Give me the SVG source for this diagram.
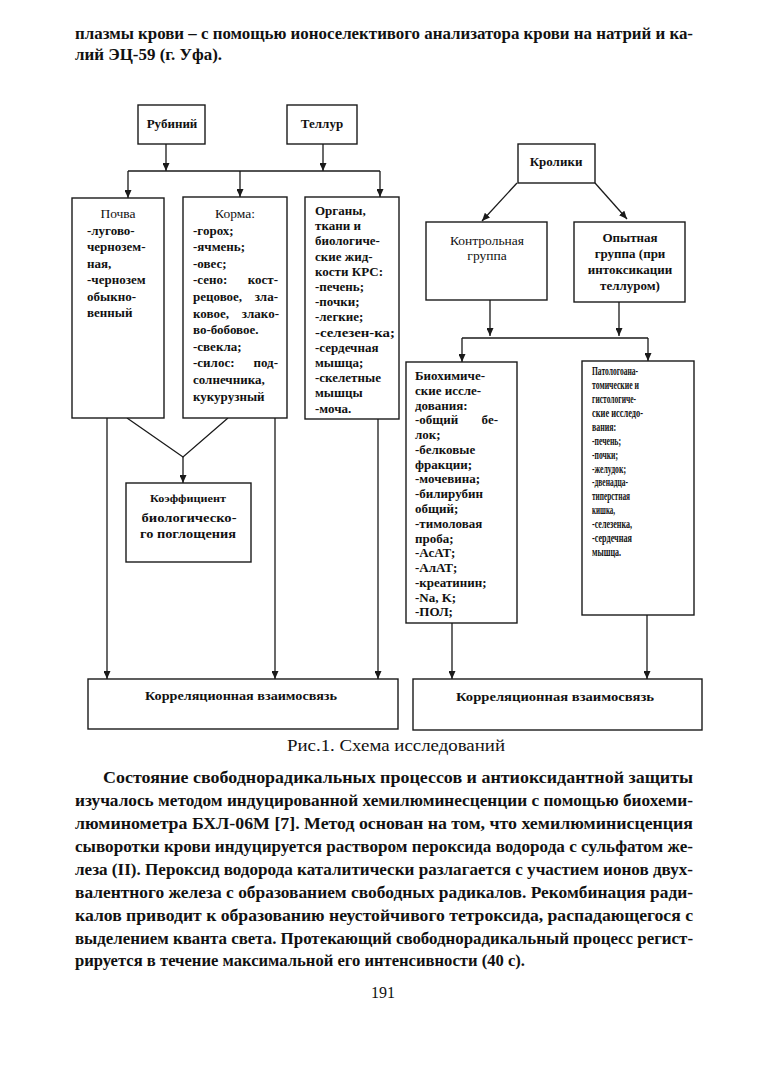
<svg xmlns="http://www.w3.org/2000/svg" width="773" height="1078" viewBox="0 0 773 1078">
<style>
  .bg{fill:#ffffff}
  .box{fill:#ffffff;stroke:#1a1a1a;stroke-width:1.4}
  .ln{fill:none;stroke:#1a1a1a;stroke-width:1.3}
  text{font-family:"Liberation Serif","DejaVu Serif",serif;fill:#111}
  .t{font-size:13px;font-weight:bold}
  .tr{font-size:13.5px}
  .sm{font-size:10.5px;font-weight:bold}
  .sp{font-size:11.5px;font-weight:bold}
  .body{font-size:16.5px;font-weight:bold}
  .cap{font-size:16px}
  .c{text-anchor:middle}
  .e{text-anchor:end}
</style>
<defs>
  <marker id="ah" viewBox="0 0 8 7" refX="8" refY="3.5" markerWidth="8" markerHeight="7" markerUnits="userSpaceOnUse" orient="auto">
    <path d="M0,0 L8,3.5 L0,7 z" fill="#1a1a1a"/>
  </marker>
</defs>
<rect class="bg" x="0" y="0" width="773" height="1078"/>

<g id="page-text-top">
  <text class="body" x="75" y="39" textLength="618" lengthAdjust="spacingAndGlyphs">плазмы крови – с помощью ионоселективого анализатора крови на натрий и ка-</text>
  <text class="body" x="75" y="60" textLength="147" lengthAdjust="spacingAndGlyphs">лий ЭЦ-59 (г. Уфа).</text>
</g>

<g id="connectors">
  <line class="ln" x1="166" y1="144" x2="166" y2="171" marker-end="url(#ah)"/>
  <line class="ln" x1="323" y1="144" x2="323" y2="171" marker-end="url(#ah)"/>
  <line class="ln" x1="128" y1="171" x2="380" y2="171"/>
  <line class="ln" x1="128" y1="171" x2="128" y2="198" marker-end="url(#ah)"/>
  <line class="ln" x1="240" y1="171" x2="240" y2="197" marker-end="url(#ah)"/>
  <line class="ln" x1="380" y1="171" x2="380" y2="197" marker-end="url(#ah)"/>
  <line class="ln" x1="517" y1="183" x2="482" y2="221" marker-end="url(#ah)"/>
  <line class="ln" x1="595" y1="183" x2="627" y2="219" marker-end="url(#ah)"/>
  <line class="ln" x1="490" y1="300" x2="490" y2="336" marker-end="url(#ah)"/>
  <line class="ln" x1="619" y1="302" x2="619" y2="336" marker-end="url(#ah)"/>
  <line class="ln" x1="462" y1="338" x2="648" y2="338"/>
  <line class="ln" x1="462" y1="338" x2="462" y2="362" marker-end="url(#ah)"/>
  <line class="ln" x1="648" y1="338" x2="648" y2="361" marker-end="url(#ah)"/>
  <polyline class="ln" points="127,418 183,457 228,418"/>
  <line class="ln" x1="183" y1="457" x2="183" y2="483" marker-end="url(#ah)"/>
  <line class="ln" x1="107" y1="418" x2="107" y2="679" marker-end="url(#ah)"/>
  <line class="ln" x1="275" y1="418" x2="275" y2="679" marker-end="url(#ah)"/>
  <line class="ln" x1="378" y1="419" x2="378" y2="679" marker-end="url(#ah)"/>
  <line class="ln" x1="452" y1="623" x2="452" y2="679" marker-end="url(#ah)"/>
  <line class="ln" x1="647" y1="615" x2="647" y2="679" marker-end="url(#ah)"/>
</g>

<g id="rubidium">
  <rect class="box" x="138" y="105" width="67" height="39"/>
  <text class="t c" x="172" y="128">Рубиний</text>
</g>
<g id="tellurium">
  <rect class="box" x="287" y="105" width="70" height="39"/>
  <text class="t c" x="322" y="128">Теллур</text>
</g>

<g id="soil">
  <rect class="box" x="72" y="198" width="92" height="220"/>
  <text class="tr c" x="118" y="218">Почва</text>
  <text class="t" x="87" y="234.5">-лугово-</text>
  <text class="t" x="87" y="251">чернозем-</text>
  <text class="t" x="87" y="267.5">ная,</text>
  <text class="t" x="87" y="284">-чернозем</text>
  <text class="t" x="87" y="300.5">обыкно-</text>
  <text class="t" x="87" y="317">венный</text>
</g>

<g id="feed">
  <rect class="box" x="183" y="197" width="104" height="221"/>
  <text class="tr c" x="235" y="218">Корма:</text>
  <text class="t" x="193" y="234.6">-горох;</text>
  <text class="t" x="193" y="251.2">-ячмень;</text>
  <text class="t" x="193" y="267.8">-овес;</text>
  <text class="t" x="193" y="284.4">-сено:</text>
  <text class="t e" x="278" y="284.4">кост-</text>
  <text class="t" x="193" y="301">рецовое,</text>
  <text class="t e" x="278" y="301">зла-</text>
  <text class="t" x="193" y="317.6">ковое,</text>
  <text class="t e" x="279" y="317.6">злако-</text>
  <text class="t" x="193" y="334.2">во-бобовое.</text>
  <text class="t" x="193" y="350.8">-свекла;</text>
  <text class="t" x="193" y="367.4">-силос:</text>
  <text class="t e" x="278" y="367.4">под-</text>
  <text class="t" x="193" y="384">солнечника,</text>
  <text class="t" x="193" y="400.6">кукурузный</text>
</g>

<g id="organs">
  <rect class="box" x="305" y="197" width="94" height="222"/>
  <text class="t" x="315" y="215">Органы,</text>
  <text class="t" x="315" y="230.2">ткани и</text>
  <text class="t" x="315" y="245.4">биологиче-</text>
  <text class="t" x="315" y="260.6">ские жид-</text>
  <text class="t" x="315" y="275.8">кости КРС:</text>
  <text class="t" x="315" y="291">-печень;</text>
  <text class="t" x="315" y="306.2">-почки;</text>
  <text class="t" x="315" y="321.4">-легкие;</text>
  <text class="t" x="315" y="336.6" textLength="80" lengthAdjust="spacingAndGlyphs">-селезен-ка;</text>
  <text class="t" x="315" y="351.8">-сердечная</text>
  <text class="t" x="315" y="367">мышца;</text>
  <text class="t" x="315" y="382.2">-скелетные</text>
  <text class="t" x="315" y="397.4">мышцы</text>
  <text class="t" x="315" y="412.6">-моча.</text>
</g>

<g id="coefficient">
  <rect class="box" x="126" y="483" width="125" height="79"/>
  <text class="sm c" x="188" y="502" textLength="76" lengthAdjust="spacingAndGlyphs">Коэффициент</text>
  <text class="t c" x="189" y="522" textLength="95" lengthAdjust="spacingAndGlyphs">биологическо-</text>
  <text class="t c" x="188" y="538" textLength="96" lengthAdjust="spacingAndGlyphs">го поглощения</text>
</g>

<g id="rabbits">
  <rect class="box" x="518" y="144" width="77" height="39"/>
  <text class="t c" x="556" y="166">Кролики</text>
</g>

<g id="control-group">
  <rect class="box" x="426" y="222" width="121" height="78"/>
  <text class="tr c" x="487" y="245">Контрольная</text>
  <text class="tr c" x="487" y="260">группа</text>
</g>

<g id="experimental-group">
  <rect class="box" x="574" y="222" width="111" height="80"/>
  <text class="t c" x="630" y="242">Опытная</text>
  <text class="t c" x="630" y="258">группа (при</text>
  <text class="t c" x="630" y="274">интоксикации</text>
  <text class="t c" x="630" y="290">теллуром)</text>
</g>

<g id="biochem">
  <rect class="box" x="406" y="362" width="111" height="261"/>
  <text class="t" x="415" y="380">Биохимиче-</text>
  <text class="t" x="415" y="394.8">ские иссле-</text>
  <text class="t" x="415" y="409.5">дования:</text>
  <text class="t" x="415" y="424.3">-общий</text>
  <text class="t e" x="498" y="424.3">бе-</text>
  <text class="t" x="415" y="439.1">лок;</text>
  <text class="t" x="415" y="453.9">-белковые</text>
  <text class="t" x="415" y="468.6">фракции;</text>
  <text class="t" x="415" y="483.4">-мочевина;</text>
  <text class="t" x="415" y="498.2">-билирубин</text>
  <text class="t" x="415" y="513">общий;</text>
  <text class="t" x="415" y="527.7">-тимоловая</text>
  <text class="t" x="415" y="542.5">проба;</text>
  <text class="t" x="415" y="557.3">-АсАТ;</text>
  <text class="t" x="415" y="572">-АлАТ;</text>
  <text class="t" x="415" y="586.8">-креатинин;</text>
  <text class="t" x="415" y="601.6">-Na, K;</text>
  <text class="t" x="415" y="616.4">-ПОЛ;</text>
</g>

<g id="pathology">
  <rect class="box" x="582" y="361" width="112" height="254"/>
  <text class="sp" x="592" y="375" textLength="46" lengthAdjust="spacingAndGlyphs">Патологоана-</text>
  <text class="sp" x="592" y="388.9" textLength="47" lengthAdjust="spacingAndGlyphs">томические и</text>
  <text class="sp" x="592" y="402.9" textLength="44" lengthAdjust="spacingAndGlyphs">гистологиче-</text>
  <text class="sp" x="592" y="416.8" textLength="51" lengthAdjust="spacingAndGlyphs">ские исследо-</text>
  <text class="sp" x="592" y="430.7" textLength="24" lengthAdjust="spacingAndGlyphs">вания:</text>
  <text class="sp" x="592" y="444.7" textLength="29" lengthAdjust="spacingAndGlyphs">-печень;</text>
  <text class="sp" x="592" y="458.6" textLength="26" lengthAdjust="spacingAndGlyphs">-почки;</text>
  <text class="sp" x="592" y="472.5" textLength="34" lengthAdjust="spacingAndGlyphs">-желудок;</text>
  <text class="sp" x="592" y="486.4" textLength="36" lengthAdjust="spacingAndGlyphs">-двенадца-</text>
  <text class="sp" x="592" y="500.4" textLength="38" lengthAdjust="spacingAndGlyphs">типерстная</text>
  <text class="sp" x="592" y="514.3" textLength="23" lengthAdjust="spacingAndGlyphs">кишка,</text>
  <text class="sp" x="592" y="528.2" textLength="40" lengthAdjust="spacingAndGlyphs">-селезенка,</text>
  <text class="sp" x="592" y="542.2" textLength="40" lengthAdjust="spacingAndGlyphs">-сердечная</text>
  <text class="sp" x="592" y="556.1" textLength="29" lengthAdjust="spacingAndGlyphs">мышца.</text>
</g>

<g id="correlation-left">
  <rect class="box" x="88" y="679" width="310" height="50"/>
  <text class="t c" x="241" y="700" textLength="192" lengthAdjust="spacingAndGlyphs">Корреляционная взаимосвязь</text>
</g>
<g id="correlation-right">
  <rect class="box" x="413" y="679" width="289" height="51"/>
  <text class="t c" x="555" y="701" textLength="198" lengthAdjust="spacingAndGlyphs">Корреляционная взаимосвязь</text>
</g>

<g id="caption">
  <text class="cap c" x="396" y="751" textLength="218" lengthAdjust="spacingAndGlyphs">Рис.1. Схема исследований</text>
</g>

<g id="page-text-bottom">
  <text class="body" x="103" y="783" textLength="590" lengthAdjust="spacingAndGlyphs">Состояние свободнорадикальных процессов и антиоксидантной защиты</text>
  <text class="body" x="75" y="806" textLength="618" lengthAdjust="spacingAndGlyphs">изучалось методом индуцированной хемилюминесценции с помощью биохеми-</text>
  <text class="body" x="75" y="829" textLength="618" lengthAdjust="spacingAndGlyphs">люминометра БХЛ-06М [7]. Метод основан на том, что хемилюминисценция</text>
  <text class="body" x="75" y="852" textLength="618" lengthAdjust="spacingAndGlyphs">сыворотки крови индуцируется раствором пероксида водорода с сульфатом же-</text>
  <text class="body" x="75" y="875" textLength="618" lengthAdjust="spacingAndGlyphs">леза (II). Пероксид водорода каталитически разлагается с участием ионов двух-</text>
  <text class="body" x="75" y="898" textLength="618" lengthAdjust="spacingAndGlyphs">валентного железа с образованием свободных радикалов. Рекомбинация ради-</text>
  <text class="body" x="75" y="921" textLength="618" lengthAdjust="spacingAndGlyphs">калов приводит к образованию неустойчивого тетроксида, распадающегося  с</text>
  <text class="body" x="75" y="944" textLength="618" lengthAdjust="spacingAndGlyphs">выделением кванта света. Протекающий свободнорадикальный процесс регист-</text>
  <text class="body" x="75" y="966" textLength="450" lengthAdjust="spacingAndGlyphs">рируется в течение максимальной его интенсивности (40 с).</text>
  <text class="cap c" x="383" y="998">191</text>
</g>
</svg>
